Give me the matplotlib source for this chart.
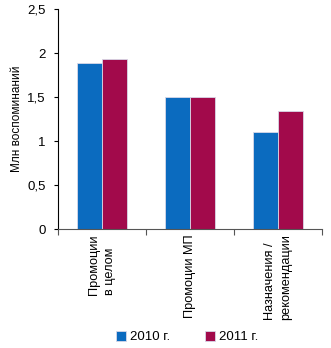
import matplotlib.pyplot as plt
import numpy as np

categories = ["Промоции\nв целом", "Промоции МП", "Назначения /\nрекомендации"]
values_2010 = [1.89, 1.50, 1.10]
values_2011 = [1.93, 1.50, 1.34]
series_labels = ["2010 г.", "2011 г."]
colors = ["#0b6bbf", "#a20a4b"]

plt.rcParams["font.family"] = ["Liberation Sans", "DejaVu Sans"]

fig = plt.figure(figsize=(3.31, 3.48), dpi=100)
ax = fig.add_axes([58 / 331, 1 - 229 / 348, (322 - 58) / 331, (229 - 9) / 348])

x = np.arange(len(categories))
w = 0.28
b1 = ax.bar(x - w / 2, values_2010, w, color=colors[0], edgecolor="#d8d8e8", linewidth=0.6,
            label=series_labels[0])
b2 = ax.bar(x + w / 2, values_2011, w, color=colors[1], edgecolor="#d8d8e8", linewidth=0.6,
            label=series_labels[1])

ax.set_xlim(-0.5, 2.5)
ax.set_ylim(0, 2.5)
ax.set_yticks([0, 0.5, 1, 1.5, 2, 2.5])
ax.set_yticklabels(["0", "0,5", "1", "1,5", "2", "2,5"], fontsize=9.5)
ax.set_xticks([-0.5, 0.5, 1.5, 2.5])
ax.set_xticklabels([])
ax.tick_params(axis="x", length=4, direction="out", width=0.8, color="#555555")
ax.tick_params(axis="y", length=3, direction="out", width=0.8, pad=6)

for xi, lab in zip(x, categories):
    ax.text(xi, -0.025, lab, rotation=90, ha="center", va="top", fontsize=9.2,
            transform=ax.get_xaxis_transform(), multialignment="left", linespacing=1.55)

for s in ["top", "right"]:
    ax.spines[s].set_visible(False)
ax.spines["left"].set_linewidth(0.8)
ax.spines["bottom"].set_color("#555555")
ax.spines["bottom"].set_linewidth(0.8)

ax.set_ylabel("Млн воспоминаний", fontsize=8.5, labelpad=3)

fig.legend(handles=[b1, b2], labels=series_labels, loc="center", bbox_to_anchor=(187 / 331, 1 - 337 / 348),
           ncol=2, frameon=False, fontsize=9.5, handlelength=0.8, handleheight=0.8,
           handletextpad=0.3, columnspacing=2.6)

fig.savefig("out.png", dpi=100)
